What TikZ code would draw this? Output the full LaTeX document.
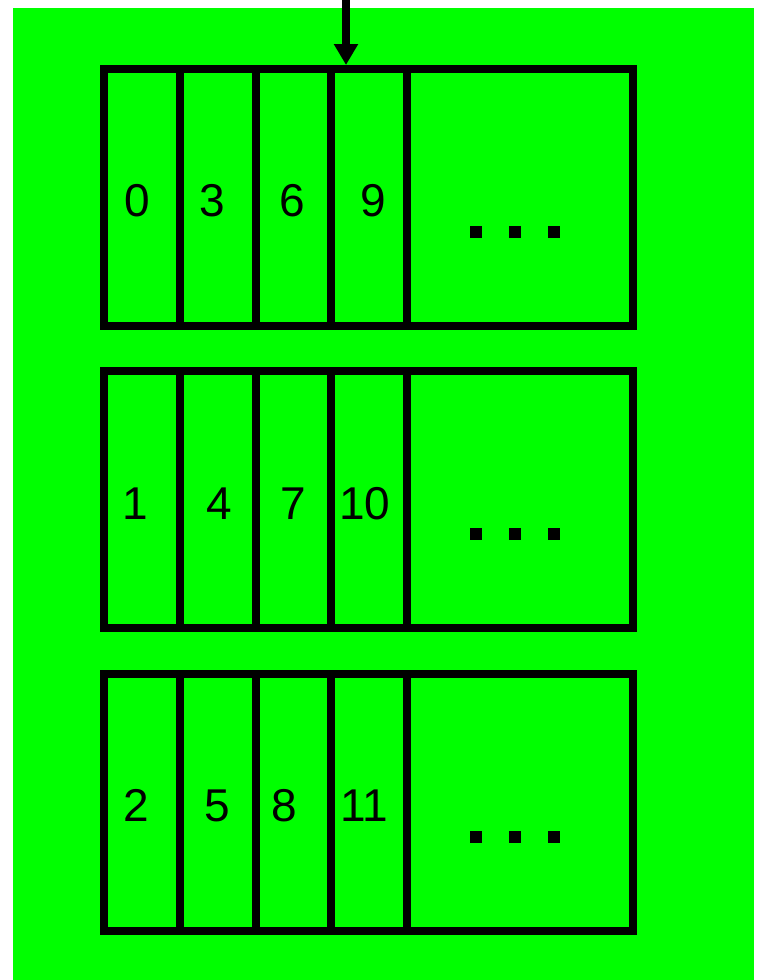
\documentclass[tikz,border=0pt]{standalone}
\usepackage{fontspec}
\setmainfont{Liberation Sans}
\usetikzlibrary{arrows.meta}
\definecolor{bggreen}{RGB}{0,255,0}
\begin{document}
\begin{tikzpicture}[x=1pt,y=-1pt,
  cell/.style={draw=black, line width=8pt, rectangle, inner sep=0pt, minimum height=257pt},
  num/.style={anchor=base, inner sep=0pt, font=\fontsize{46}{46}\selectfont},
  dotsq/.style={fill=black, rectangle, inner sep=0pt, minimum size=12pt},
  ptr/.style={line width=8pt, -{Triangle[width=23pt,length=21pt]}}]
\useasboundingbox (0,0) rectangle (759,980);
\fill[bggreen] (13,8) rectangle (754,980);
\foreach \r/\yc in {1/197.5, 2/499.5, 3/802.5}{
  \node[cell, minimum width=76pt]  (c\r1) at (142,\yc) {};
  \node[cell, minimum width=76pt]  (c\r2) at (218,\yc) {};
  \node[cell, minimum width=75pt]  (c\r3) at (293.5,\yc) {};
  \node[cell, minimum width=76pt]  (c\r4) at (369,\yc) {};
  \node[cell, minimum width=226pt] (c\r5) at (520,\yc) {};
  \node[dotsq] (d\r a) at (476,\yc+34.5) {};
  \node[dotsq] (d\r b) at (515,\yc+34.5) {};
  \node[dotsq] (d\r c) at (554,\yc+34.5) {};
}
\node[num] (n0)  at (137,216) {0};
\node[num] (n3)  at (212,216) {3};
\node[num] (n6)  at (292,216) {6};
\node[num] (n9)  at (373,216) {9};
\node[num] (n1)  at (135,519) {1};
\node[num] (n4)  at (219,519) {4};
\node[num] (n7)  at (293,519) {7};
\node[num] (n10) at (365,519) {10};
\node[num] (n2)  at (136,821) {2};
\node[num] (n5)  at (217,821) {5};
\node[num] (n8)  at (284,821) {8};
\node[num] (n11) at (364,821) {11};
\coordinate (src) at (346,0);
\draw[ptr] (src) -- (src |- c14.north);
\end{tikzpicture}
\end{document}
